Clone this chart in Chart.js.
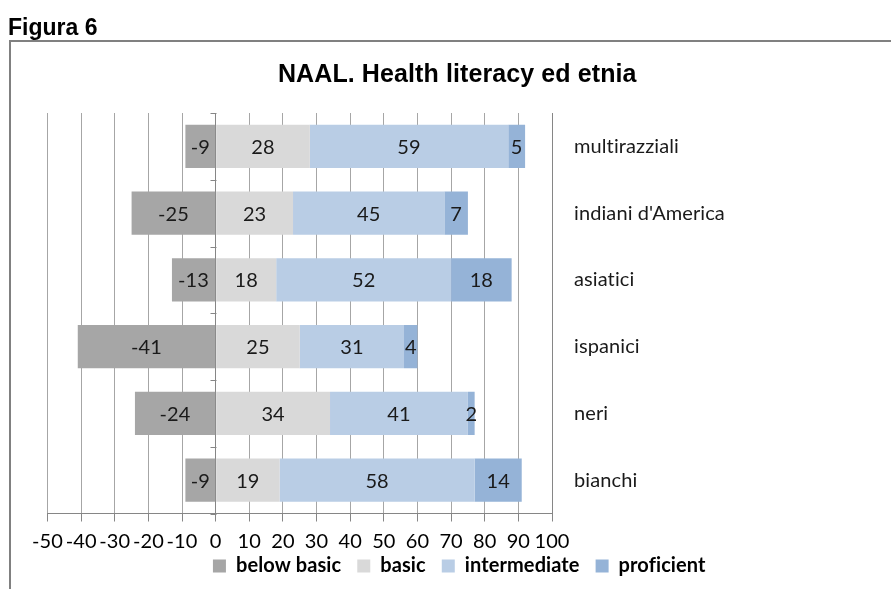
<!DOCTYPE html>
<html>
<head>
<meta charset="utf-8">
<script src="https://cdn.jsdelivr.net/npm/chart.js@4.4.1/dist/chart.umd.min.js"></script>
<style>
  html, body { margin: 0; padding: 0; background: #ffffff; }
  #wrap { position: relative; width: 891px; height: 589px; }
  canvas { display: block; }
</style>
</head>
<body>
<div id="wrap"><canvas id="c" width="891" height="589"></canvas></div>
<script>
// ---- data ----
const categories = ["multirazziali", "indiani d'America", "asiatici", "ispanici", "neri", "bianchi"];
const seriesNames = ["below basic", "basic", "intermediate", "proficient"];
const belowBasic   = [-9, -25, -13, -41, -24, -9];
const basic        = [28, 23, 18, 25, 34, 19];
const intermediate = [59, 45, 52, 31, 41, 58];
const proficient   = [5, 7, 18, 4, 2, 14];
const xTickMin = -50, xTickMax = 100, xTickStep = 10;
const figureLabel = "Figura 6";
const chartTitle = "NAAL. Health literacy ed etnia";

const colors = ["#a6a6a6", "#d9d9d9", "#b9cde5", "#95b3d7"];
const numFont = 'Lato, "Open Sans", sans-serif';

// frame + figure caption
const framePlugin = {
  id: 'frame',
  beforeDraw(chart) {
    const ctx = chart.ctx;
    ctx.save();
    ctx.fillStyle = '#ffffff';
    ctx.fillRect(0, 0, chart.width, chart.height);
    ctx.strokeStyle = '#808080';
    ctx.lineWidth = 2;
    ctx.beginPath();
    ctx.moveTo(9, 41);
    ctx.lineTo(chart.width, 41);
    ctx.moveTo(10, 40);
    ctx.lineTo(10, chart.height);
    ctx.stroke();
    ctx.fillStyle = '#000000';
    ctx.font = 'bold 23px "Liberation Sans", Arial, sans-serif';
    ctx.textBaseline = 'alphabetic';
    ctx.textAlign = 'left';
    ctx.fillText(figureLabel, 8, 35);
    ctx.restore();
    if ('letterSpacing' in ctx) ctx.letterSpacing = '0.1px';
  }
};

// small category ticks on the zero line
const catTicksPlugin = {
  id: 'catTicks',
  beforeDatasetsDraw(chart) {
    const xs = chart.scales.x, ys = chart.scales.y;
    const x0 = Math.round(xs.getPixelForValue(0)) + 0.5;
    const n = categories.length;
    const ctx = chart.ctx;
    ctx.save();
    ctx.strokeStyle = '#868686';
    ctx.lineWidth = 1;
    ctx.beginPath();
    for (let i = 0; i <= n; i++) {
      const y = Math.round(ys.top + (ys.bottom - ys.top) * i / n) + 0.5;
      ctx.moveTo(x0 - 6, y);
      ctx.lineTo(x0, y);
    }
    ctx.stroke();
    ctx.restore();
  }
};

// value labels centred in each segment
const valueLabelsPlugin = {
  id: 'valueLabels',
  afterDatasetsDraw(chart) {
    const ctx = chart.ctx;
    ctx.save();
    ctx.font = '20px ' + numFont;
    ctx.fillStyle = '#1a1a1a';
    ctx.textAlign = 'center';
    ctx.textBaseline = 'middle';
    chart.data.datasets.forEach((ds, di) => {
      const meta = chart.getDatasetMeta(di);
      meta.data.forEach((el, i) => {
        const v = ds.data[i];
        const cx = (el.x + el.base) / 2;
        ctx.fillText(String(v), cx, el.y + 1);
      });
    });
    ctx.restore();
  }
};

const seriesData = [belowBasic, basic, intermediate, proficient];

new Chart(document.getElementById('c'), {
  type: 'bar',
  data: {
    labels: categories,
    datasets: seriesNames.map((name, i) => ({
      label: name,
      data: seriesData[i],
      backgroundColor: colors[i],
      borderWidth: 0,
      barPercentage: 0.645,
      categoryPercentage: 1.0
    }))
  },
  options: {
    indexAxis: 'y',
    responsive: false,
    animation: false,
    devicePixelRatio: 1,
    layout: { padding: { left: 47.5, right: 24, top: 0, bottom: 3 } },
    plugins: {
      title: {
        display: true,
        text: chartTitle,
        color: '#000000',
        font: { family: '"Liberation Sans", Arial, sans-serif', size: 25, weight: 'bold', lineHeight: 1.2 },
        padding: { top: 60, bottom: 23 }
      },
      legend: {
        position: 'bottom',
        labels: {
          color: '#000000',
          font: { family: numFont, size: 20, weight: 'bold' },
          boxWidth: 13,
          boxHeight: 13,
          padding: 16
        }
      },
      tooltip: { enabled: false }
    },
    scales: {
      x: {
        type: 'linear',
        stacked: true,
        min: xTickMin,
        max: xTickMax,
        ticks: {
          stepSize: xTickStep,
          autoSkip: false,
          maxRotation: 0,
          color: '#000000',
          padding: 8,
          font: { family: numFont, size: 20 }
        },
        grid: {
          color: (c) => (c.tick && c.tick.value === 0) ? '#868686' : '#a6a6a6',
          tickColor: '#868686',
          tickLength: 8,
          lineWidth: 1
        },
        border: { color: '#868686', width: 1 },
        afterFit(scale) {
          scale.height = 26.5;
          // tick labels sit partly in the legend band; do not clip them to the scale box
          scale._computeLabelArea = () => undefined;
        }
      },
      y: {
        type: 'category',
        stacked: true,
        position: 'right',
        ticks: {
          color: '#1a1a1a',
          padding: 22,
          font: { family: numFont, size: 20 }
        },
        grid: { display: false, drawTicks: false },
        border: { display: true, color: '#868686', width: 1 },
        afterFit(scale) { scale.width = 315; }
      }
    }
  },
  plugins: [framePlugin, catTicksPlugin, valueLabelsPlugin]
});
</script>
</body>
</html>
